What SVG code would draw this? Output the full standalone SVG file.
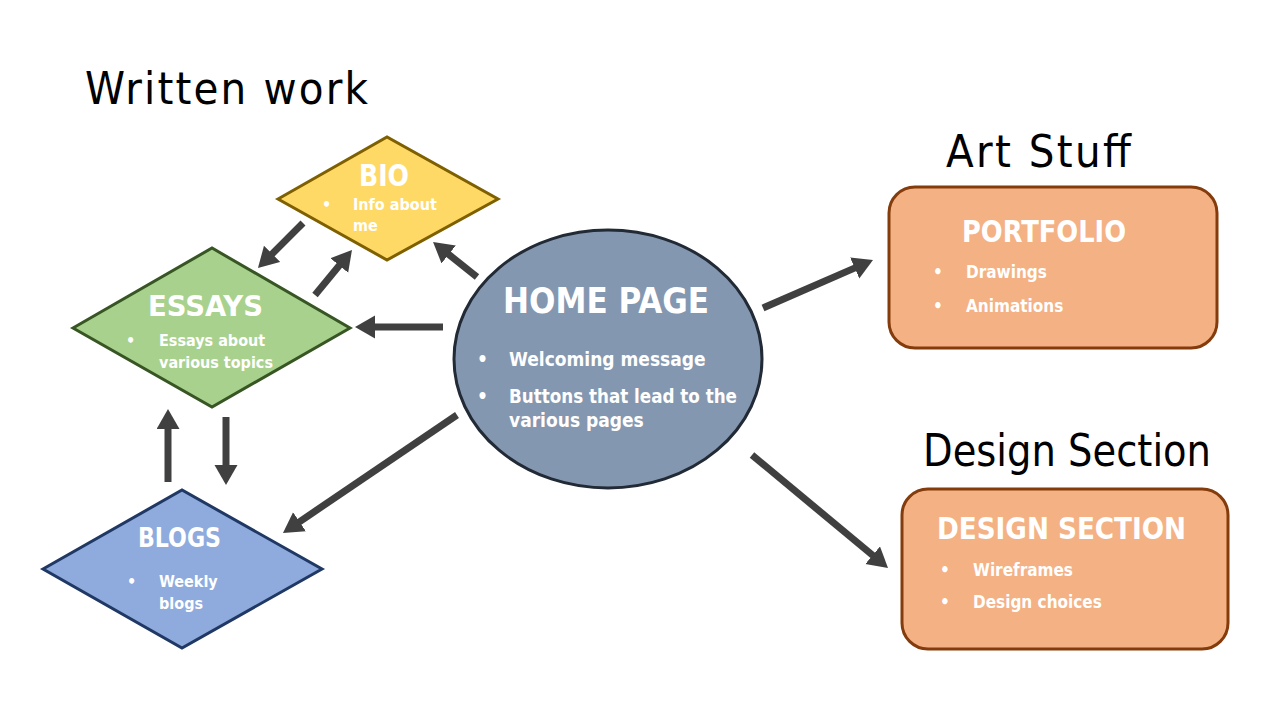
<svg xmlns="http://www.w3.org/2000/svg" width="1282" height="723" viewBox="0 0 1282 723">
  <style>
    .title { font-family: "DejaVu Sans Condensed", "DejaVu Sans", sans-serif; font-size: 45px; fill: #000; }
    .head { font-family: "DejaVu Sans Condensed", "DejaVu Sans", sans-serif; font-weight: bold; fill: #fff; }
    .item { font-family: "DejaVu Sans Condensed", "DejaVu Sans", sans-serif; font-weight: bold; fill: #fff; }
    .conn { stroke: #404040; stroke-width: 7; fill: none; marker-end: url(#head); }
  </style>
  <defs>
    <marker id="head" markerUnits="userSpaceOnUse" markerWidth="24" markerHeight="24" refX="1" refY="11.5" orient="auto">
      <path d="M0,0 L20,11.5 L0,23 z" fill="#404040"/>
    </marker>
  </defs>
  <rect width="1282" height="723" fill="#fff"/>

  <!-- section titles -->
  <text class="title" x="85" y="104" textLength="283" lengthAdjust="spacing">Written work</text>
  <text class="title" x="946" y="167" textLength="185" lengthAdjust="spacing">Art Stuff</text>
  <text class="title" x="923" y="466" textLength="288" lengthAdjust="spacingAndGlyphs">Design Section</text>

  <!-- connectors -->
  <g id="connectors">
    <line class="conn" x1="303" y1="223" x2="271.4" y2="254.6"/>
    <line class="conn" x1="315" y1="295" x2="339.9" y2="264.7"/>
    <line class="conn" x1="477" y1="277" x2="447.9" y2="253.8"/>
    <line class="conn" x1="443" y1="327" x2="374" y2="327"/>
    <line class="conn" x1="168" y1="482" x2="168" y2="428"/>
    <line class="conn" x1="226" y1="417" x2="226" y2="466"/>
    <line class="conn" x1="457" y1="415" x2="298.7" y2="522.3"/>
    <line class="conn" x1="763" y1="308" x2="855.6" y2="267.6"/>
    <line class="conn" x1="752" y1="455" x2="873.4" y2="555.9"/>
  </g>

  <!-- BIO -->
  <g id="bio">
    <polygon points="278,199 387,137 498,199 387,260" fill="#FFD966" stroke="#7F6000" stroke-width="3"/>
    <text class="head" x="359" y="186" font-size="30" textLength="50" lengthAdjust="spacingAndGlyphs">BIO</text>
    <text class="item" x="322" y="210" font-size="16">•</text>
    <text class="item" x="353" y="210" font-size="16">Info about</text>
    <text class="item" x="353" y="231" font-size="16">me</text>
  </g>

  <!-- ESSAYS -->
  <g id="essays">
    <polygon points="73,328 212,248 350,328 212,407" fill="#A9D18E" stroke="#375623" stroke-width="3"/>
    <text class="head" x="148" y="316" font-size="29" textLength="115" lengthAdjust="spacingAndGlyphs">ESSAYS</text>
    <text class="item" x="126" y="346" font-size="16">•</text>
    <text class="item" x="159" y="346" font-size="16">Essays about</text>
    <text class="item" x="159" y="368" font-size="16">various topics</text>
  </g>

  <!-- BLOGS -->
  <g id="blogs">
    <polygon points="43,569 182,490 322,569 182,648" fill="#8FAADC" stroke="#1F3864" stroke-width="3"/>
    <text class="head" x="138" y="547" font-size="26" textLength="83" lengthAdjust="spacingAndGlyphs">BLOGS</text>
    <text class="item" x="127" y="587" font-size="16">•</text>
    <text class="item" x="159" y="587" font-size="16">Weekly</text>
    <text class="item" x="159" y="609" font-size="16">blogs</text>
  </g>

  <!-- HOME PAGE -->
  <g id="home">
    <ellipse cx="608" cy="359" rx="154" ry="129" fill="#8497B0" stroke="#222A35" stroke-width="3"/>
    <text class="head" x="503" y="313" font-size="36" textLength="206" lengthAdjust="spacingAndGlyphs">HOME PAGE</text>
    <text class="item" x="477" y="366" font-size="19">•</text>
    <text class="item" x="509" y="366" font-size="19">Welcoming message</text>
    <text class="item" x="477" y="403" font-size="19">•</text>
    <text class="item" x="509" y="403" font-size="19" textLength="228" lengthAdjust="spacingAndGlyphs">Buttons that lead to the</text>
    <text class="item" x="509" y="427" font-size="19">various pages</text>
  </g>

  <!-- PORTFOLIO -->
  <g id="portfolio">
    <rect x="889" y="187" width="328" height="161" rx="26" fill="#F4B183" stroke="#843C0C" stroke-width="3"/>
    <text class="head" x="962" y="242" font-size="30" textLength="164" lengthAdjust="spacingAndGlyphs">PORTFOLIO</text>
    <text class="item" x="933" y="278" font-size="17">•</text>
    <text class="item" x="966" y="278" font-size="17">Drawings</text>
    <text class="item" x="933" y="312" font-size="17">•</text>
    <text class="item" x="966" y="312" font-size="17">Animations</text>
  </g>

  <!-- DESIGN SECTION -->
  <g id="design">
    <rect x="902" y="489" width="326" height="160" rx="26" fill="#F4B183" stroke="#843C0C" stroke-width="3"/>
    <text class="head" x="937" y="539" font-size="30" textLength="249" lengthAdjust="spacingAndGlyphs">DESIGN SECTION</text>
    <text class="item" x="940" y="576" font-size="17">•</text>
    <text class="item" x="973" y="576" font-size="17">Wireframes</text>
    <text class="item" x="940" y="608" font-size="17">•</text>
    <text class="item" x="973" y="608" font-size="17">Design choices</text>
  </g>
</svg>
